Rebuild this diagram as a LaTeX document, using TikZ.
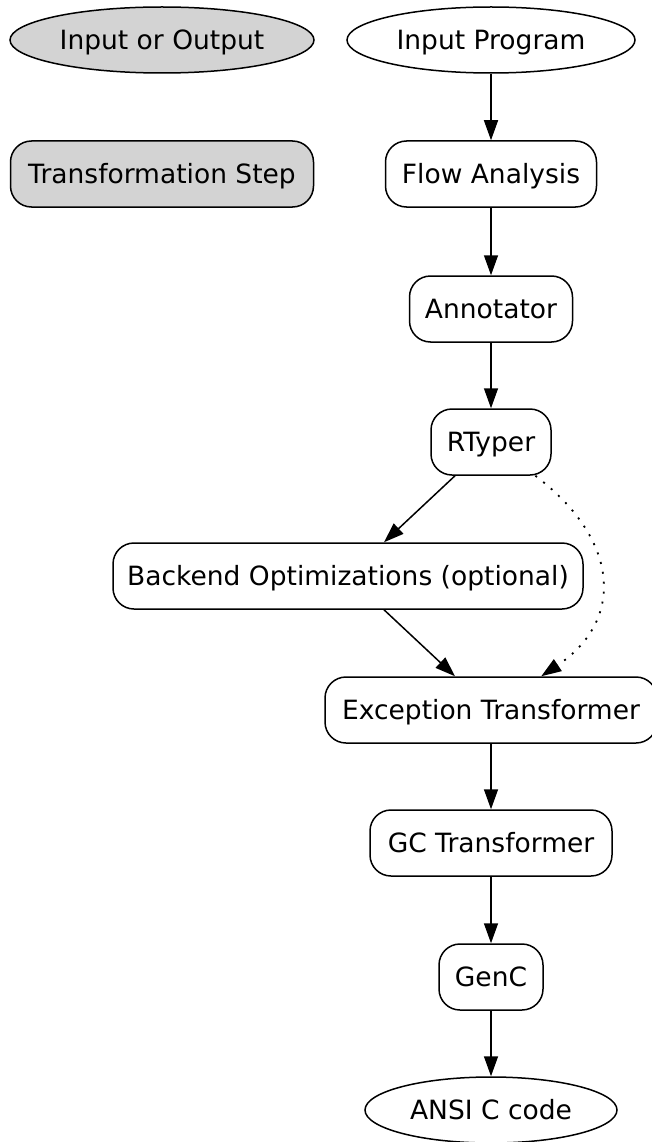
\documentclass[tikz,border=0pt]{standalone}
\usepackage{fontspec}
\setmainfont{DejaVu Sans}
\usetikzlibrary{shapes.geometric,arrows.meta}
\definecolor{boxgray}{RGB}{211,211,211}
\begin{document}
\begin{tikzpicture}[x=1pt,y=-1pt,
  every node/.style={font=\fontsize{26.5}{30}\selectfont, line width=1.5pt, draw, inner sep=0pt, text height=19pt, text depth=0pt},
  io/.style={ellipse, minimum height=66pt},
  stepbox/.style={rectangle, rounded corners=21pt, minimum height=66pt},
  edge/.style={line width=1.5pt, -{Triangle[length=20pt,width=14pt]}},
  dottededge/.style={edge, dash pattern=on 2pt off 8pt, line width=1.8pt}]
\useasboundingbox (0,0) rectangle (652,1142);
\node[io, fill=boxgray, minimum width=304pt] (legio) at (162,40) {Input or Output};
\node[stepbox, fill=boxgray, minimum width=303pt] (legstep) at (162,174) {Transformation Step};
\node[io, minimum width=288pt] (inp) at (491,40) {Input Program};
\node[stepbox, minimum width=211pt] (flow) at (491,174) {Flow Analysis};
\node[stepbox, minimum width=163pt] (ann) at (491,309) {Annotator};
\node[stepbox, minimum width=120pt] (rt) at (491,442) {RTyper};
\node[stepbox, minimum width=470pt] (be) at (348,576) {Backend Optimizations (optional)};
\node[stepbox, minimum width=332pt] (exc) at (491,710) {Exception Transformer};
\node[stepbox, minimum width=242pt] (gc) at (491,843) {GC Transformer};
\node[stepbox, minimum width=104pt] (genc) at (491,977) {GenC};
\node[io, minimum width=252pt] (ansi) at (491,1110) {ANSI C code};
\draw[edge] (inp) -- (flow);
\draw[edge] (flow) -- (ann);
\draw[edge] (ann) -- (rt);
\draw[edge] (rt) -- (be);
\draw[edge] (be) -- (exc);
\draw[dottededge] (rt) .. controls (620,540) and (625,620) .. (exc);
\draw[edge] (exc) -- (gc);
\draw[edge] (gc) -- (genc);
\draw[edge] (genc) -- (ansi);
\end{tikzpicture}
\end{document}
